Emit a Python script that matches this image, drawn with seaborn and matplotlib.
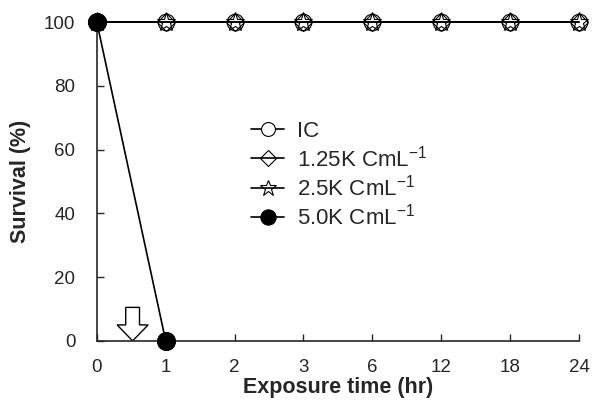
import numpy as np
import pandas as pd
import matplotlib.pyplot as plt
import seaborn as sns

# Data
times = ['0', '1', '2', '3', '6', '12', '18', '24']
ic = [100, 100, 100, 100, 100, 100, 100, 100]
conc_125 = [100, 100, 100, 100, 100, 100, 100, 100]
conc_25 = [100, 100, 100, 100, 100, 100, 100, 100]
conc_50 = [100, 0]
labels = ['IC', '1.25K CmL$^{-1}$', '2.5K CmL$^{-1}$', '5.0K CmL$^{-1}$']

sns.set_style('ticks')
plt.rcParams['font.family'] = ['Liberation Sans', 'DejaVu Sans']
plt.rcParams['mathtext.fontset'] = 'custom'
plt.rcParams['mathtext.rm'] = 'Liberation Sans'

fig = plt.figure(figsize=(6.05, 4.01), dpi=100)
ax = fig.add_axes([0.160, 0.150, 0.797, 0.795])

pos = np.arange(len(times))
series = [
    (ic, 'o', 'white'),
    (conc_125, 'D', 'none'),
    (conc_25, '*', 'none'),
    (conc_50, 'o', 'black'),
]
ms = [12, 9, 14, 13]
for i, (vals, mk, fc) in enumerate(series):
    df = pd.DataFrame({'x': pos[:len(vals)], 'y': vals})
    sns.lineplot(data=df, x='x', y='y', ax=ax, color='black', lw=1.2,
                 marker=mk, markersize=ms[i], markerfacecolor=fc,
                 markeredgecolor='black', markeredgewidth=0.8,
                 clip_on=False, zorder=3 + i, label=labels[i])

# treatment arrow
arrow_x = 0.52
ax.arrow(arrow_x, 10.5, 0, -10.5, width=0.2, head_width=0.45, head_length=5,
         length_includes_head=True, fc='white', ec='black', lw=1.0,
         clip_on=False, zorder=2)

ax.set_xlim(0, len(times) - 1)
ax.set_ylim(0, 100)
ax.set_xticks(pos)
ax.set_xticklabels(times)
ax.set_yticks([0, 20, 40, 60, 80, 100])
ax.tick_params(direction='in', length=5, width=1, labelsize=13.5)
ax.tick_params(axis='x', pad=13)
ax.tick_params(axis='y', pad=15.5)
for s in ['left', 'bottom']:
    ax.spines[s].set_linewidth(1.2)
sns.despine(ax=ax)

ax.set_xlabel('Exposure time (hr)', fontsize=15.5, fontweight='bold', labelpad=1)
ax.set_ylabel('Survival (%)', fontsize=15.5, fontweight='bold', labelpad=9)

leg = ax.legend(loc='upper left', bbox_to_anchor=(0.297, 0.725), frameon=False,
                fontsize=16, handlelength=1.5, handletextpad=0.55,
                labelspacing=0.15, borderpad=0)
for h, m in zip(leg.legend_handles, [10, 8, 12, 11]):
    h.set_markersize(m)

fig.savefig('out.png', dpi=100)
